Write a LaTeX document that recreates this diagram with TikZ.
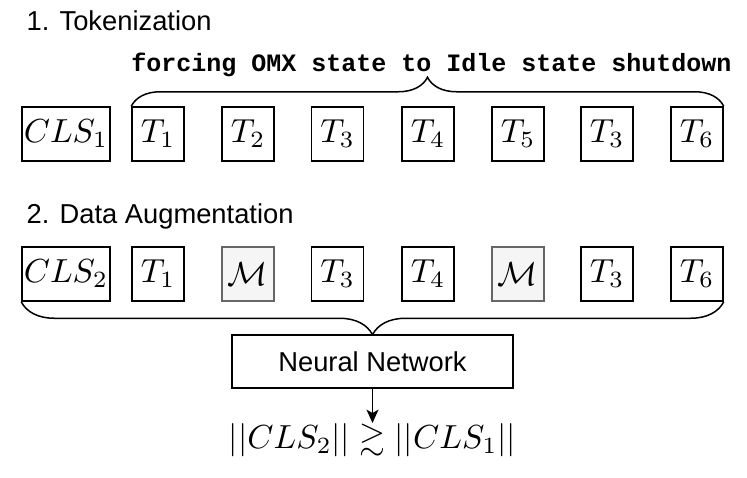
\documentclass[tikz,border=0pt]{standalone}
\usepackage{amsmath}
\usepackage{amssymb}
\usepackage[no-math]{fontspec}
\setmainfont{Liberation Sans}
\setmonofont{Liberation Mono}
\usetikzlibrary{decorations.pathreplacing,arrows.meta}

\begin{document}
\begin{tikzpicture}[x=0.3pt,y=-0.3pt,
    tok/.style={draw,line width=0.45pt,minimum width=15.6pt,minimum height=16.2pt,inner sep=0pt},
    cls/.style={tok,minimum width=26.4pt},
    masked/.style={tok,draw=black!60,fill=black!4},
    heading/.style={font=\fontsize{8.2}{10}\selectfont,anchor=base west,inner sep=0pt},
    brc/.style={decorate,decoration={brace,amplitude=#1},line width=0.45pt}]
    \useasboundingbox (0,0) rectangle (747,477);

    % tokenization
    \node[heading] (head1) at (26,30) {1. Tokenization};
    \node[font=\ttfamily\bfseries\fontsize{7.5}{9}\selectfont,anchor=base,inner sep=0pt] (sent) at (431.5,71) {forcing OMX state to Idle state shutdown};
    \node[cls] (cls1) at (66,134) {$CLS_1$};
    \node[tok] (a1) at (158,134) {$T_1$};
    \node[tok] (a2) at (248,134) {$T_2$};
    \node[tok] (a3) at (337.5,134) {$T_3$};
    \node[tok] (a4) at (428,134) {$T_4$};
    \node[tok] (a5) at (518,134) {$T_5$};
    \node[tok] (a6) at (607,134) {$T_3$};
    \node[tok] (a7) at (697,134) {$T_6$};
    \draw[brc=8.7pt] (a1.north west) -- (a7.north east);

    % augmentation
    \node[heading] (head2) at (26,223) {2. Data Augmentation};
    \node[cls] (cls2) at (66,274) {$CLS_2$};
    \node[tok] (b1) at (158,274) {$T_1$};
    \node[masked] (b2) at (248,274) {$\mathcal{M}$};
    \node[tok] (b3) at (337.5,274) {$T_3$};
    \node[tok] (b4) at (428,274) {$T_4$};
    \node[masked] (b5) at (518,274) {$\mathcal{M}$};
    \node[tok] (b6) at (607,274) {$T_3$};
    \node[tok] (b7) at (697,274) {$T_6$};
    \draw[brc=9.9pt] (b7.south east) -- (cls2.south west);

    \node[draw,line width=0.45pt,minimum width=84.3pt,minimum height=15.9pt,inner sep=0pt,
      font=\fontsize{8.2}{10}\selectfont] (nn) at (372.5,361.5) {Neural Network};
    \node[anchor=north,inner sep=0pt] (res) at (372.5,423) {$||CLS_2|| \gtrsim ||CLS_1||$};
    \draw[line width=0.45pt,-{Stealth[length=4pt,width=3.6pt,inset=1pt]}] (nn.south) -- (res.north);
\end{tikzpicture}
\end{document}
